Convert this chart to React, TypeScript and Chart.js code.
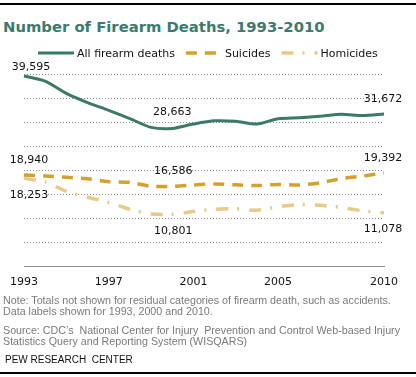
import React, { useEffect, useRef } from "react";
import { Chart, registerables } from "chart.js";

Chart.register(...registerables);

const years = [1993, 1994, 1995, 1996, 1997, 1998, 1999, 2000, 2001, 2002, 2003, 2004, 2005, 2006, 2007, 2008, 2009, 2010];
const allDeaths = [39595, 38505, 35957, 34040, 32436, 30708, 28874, 28663, 29573, 30242, 30136, 29569, 30694, 30896, 31224, 31593, 31347, 31672];
const suicides = [18940, 18765, 18503, 18166, 17566, 17424, 16599, 16586, 16869, 17108, 16907, 16750, 17002, 16883, 17352, 18223, 18735, 19392];
const homicides = [18253, 17527, 15551, 14327, 13252, 11798, 10828, 10801, 11348, 11829, 11920, 11624, 12352, 12791, 12632, 12179, 11493, 11078];
const seriesNames = ["All firearm deaths", "Suicides", "Homicides"];
const tickYears = [1993, 1997, 2001, 2005, 2010];
const labeledYears = [1993, 2000, 2010];

const COLORS = ["#3b7a69", "#d3a22c", "#e8ca88"];
const DASHES: number[][] = [[], [11, 8], [12, 9, 2, 10]];
const WIDTHS = [3, 3.5, 3.5];
// label offsets [series][labeled index] -> [dx, dy]
const LABEL_OFFSETS: number[][][] = [
  [[7, -9], [0, -16], [-1, -15]],
  [[5, -15], [1, -15], [-1, -15]],
  [[5, 17], [1, 17], [-1, 16]],
];

const fmt = (v: number) => v.toLocaleString("en-US");

const dataLabelPlugin = {
  id: "dataLabels",
  afterDatasetsDraw(chart: any) {
    const ctx = chart.ctx;
    ctx.save();
    ctx.font = "11px 'DejaVu Sans'";
    ctx.fillStyle = "#111";
    ctx.textAlign = "center";
    ctx.textBaseline = "middle";
    chart.data.datasets.forEach((ds: any, di: number) => {
      const meta = chart.getDatasetMeta(di);
      labeledYears.forEach((yr, li) => {
        const idx = years.indexOf(yr);
        const pt = meta.data[idx];
        if (!pt) return;
        const [dx, dy] = LABEL_OFFSETS[di][li];
        ctx.fillText(fmt(ds.data[idx]), pt.x + dx, pt.y + dy);
      });
    });
    ctx.restore();
  },
};

const legendPlugin = {
  id: "customLegend",
  afterDraw(chart: any) {
    const ctx = chart.ctx;
    ctx.save();
    ctx.font = "11px 'DejaVu Sans'";
    ctx.textBaseline = "middle";
    ctx.textAlign = "left";
    const y = 53;
    let x = 38;
    chart.data.datasets.forEach((ds: any, di: number) => {
      ctx.beginPath();
      ctx.strokeStyle = COLORS[di];
      ctx.lineWidth = WIDTHS[di];
      ctx.setLineDash(DASHES[di]);
      ctx.moveTo(x, y);
      ctx.lineTo(x + 36, y);
      ctx.stroke();
      ctx.setLineDash([]);
      ctx.fillStyle = "#111";
      ctx.fillText(seriesNames[di], x + 39, y + 1);
      x += 39 + ctx.measureText(seriesNames[di]).width + 11;
    });
    ctx.restore();
  },
};

function App() {
  const ref = useRef<HTMLCanvasElement | null>(null);

  useEffect(() => {
    if (!ref.current) return;
    const chart = new Chart(ref.current, {
      type: "line",
      data: {
        labels: years.map(String),
        datasets: [allDeaths, suicides, homicides].map((d, i) => ({
          label: seriesNames[i],
          data: d,
          borderColor: COLORS[i],
          borderWidth: WIDTHS[i],
          borderDash: DASHES[i],
          pointRadius: 0,
          tension: 0.25,
          fill: false,
        })),
      },
      options: {
        responsive: false,
        animation: false,
        layout: { padding: { top: 74, left: 24, right: 32, bottom: 0 } },
        plugins: { legend: { display: false }, tooltip: { enabled: false }, title: { display: false } },
        scales: {
          x: {
            type: "category",
            offset: false,
            grid: { display: false, drawTicks: false },
            border: { display: true, color: "#8c8c8c", width: 1 },
            ticks: {
              autoSkip: false,
              maxRotation: 0,
              padding: 10,
              color: "#111",
              font: { family: "'DejaVu Sans'", size: 11 },
              callback: (_v: any, i: number) => (tickYears.includes(years[i]) ? String(years[i]) : ""),
            },
            afterFit: (s: any) => {
              s.height = 34;
            },
          },
          y: {
            min: 0,
            max: 40000,
            ticks: { display: false, stepSize: 5000 },
            grid: {
              drawTicks: false,
              color: (c: any) => (c.tick && c.tick.value === 0 ? "rgba(0,0,0,0)" : "#8a8a8a"),
              lineWidth: 1,
            },
            border: { display: false, dash: [1, 2] },
            afterFit: (s: any) => {
              s.width = 0;
            },
          },
        },
      },
      plugins: [dataLabelPlugin, legendPlugin],
    });
    return () => chart.destroy();
  }, []);

  const noteStyle: React.CSSProperties = {
    position: "absolute",
    left: 3,
    margin: 0,
    fontFamily: "'Liberation Sans', sans-serif",
    fontSize: 10.7,
    lineHeight: "11px",
    color: "#7a7a7a",
    whiteSpace: "nowrap",
  };

  return (
    <div style={{ position: "absolute", left: 0, top: 0, width: 416, height: 377, background: "#fff", overflow: "hidden" }}>
      <div style={{ position: "absolute", left: 0, top: 3, width: 416, height: 2, background: "#000" }} />
      <div
        style={{
          position: "absolute",
          left: 3,
          top: 19,
          fontFamily: "'DejaVu Sans', sans-serif",
          fontWeight: "bold",
          fontSize: 14.8,
          lineHeight: "15px",
          color: "#3b7a6e",
          whiteSpace: "nowrap",
        }}
      >
        Number of Firearm Deaths, 1993-2010
      </div>
      <canvas ref={ref} width={416} height={300} style={{ position: "absolute", left: 0, top: 0, width: 416, height: 300 }} />
      <div style={{ ...noteStyle, top: 295 }}>
        Note: Totals not shown for residual categories of firearm death, such as accidents.
        <br />
        Data labels shown for 1993, 2000 and 2010.
      </div>
      <div style={{ ...noteStyle, top: 325 }}>
        Source: CDC’s&nbsp; National Center for Injury&nbsp; Prevention and Control Web-based Injury
        <br />
        Statistics Query and Reporting System (WISQARS)
      </div>
      <div style={{ ...noteStyle, top: 355, left: 5, color: "#111", fontSize: 10, lineHeight: "10px" }}>PEW RESEARCH&nbsp; CENTER</div>
      <div style={{ position: "absolute", left: 0, top: 372, width: 416, height: 2, background: "#000" }} />
    </div>
  );
}

export default App;
